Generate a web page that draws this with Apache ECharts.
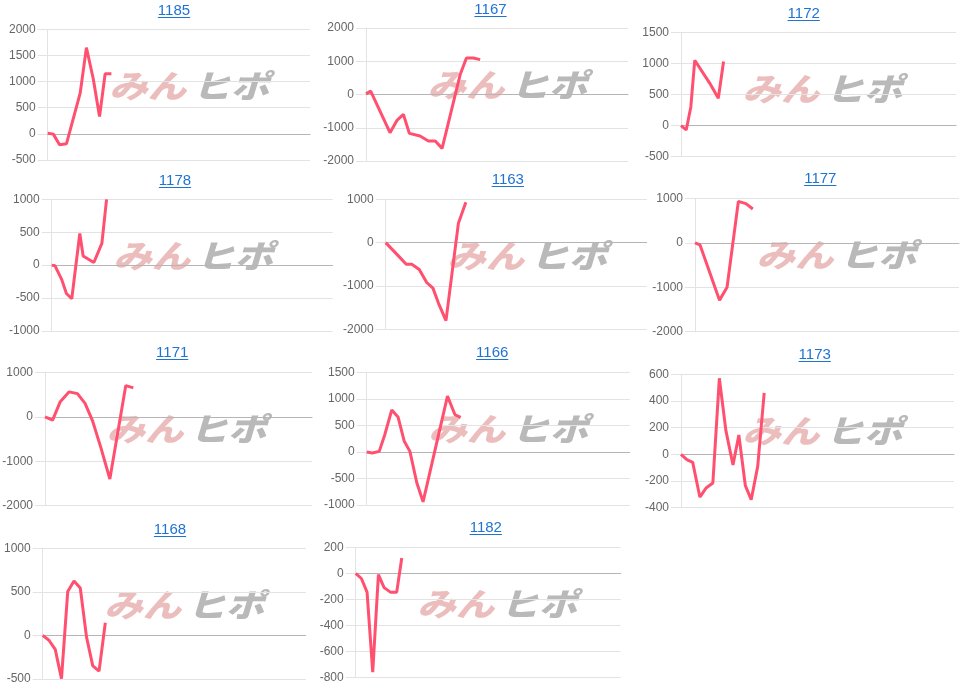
<!DOCTYPE html>
<html><head><meta charset="utf-8">
<script src="https://cdn.jsdelivr.net/npm/echarts@6/dist/echarts.min.js"></script>
<style>html,body{margin:0;padding:0;background:#fff}#c{width:967px;height:689px}</style>
</head><body><div id="c"></div>
<script>
// ---- data ----
const titles = ['1185','1167','1172','1178','1163','1177','1171','1166','1173','1168','1182'];

const x1185 = [0,0.9,1.9,3.0,5.2,6.2,7.3,8.3,9.2,10.2];
const y1185 = [10,-5,-210,-190,780,1650,1050,330,1150,1150];

const x1167 = [0,0.75,2.0,3.85,5.0,6.0,6.95,8.66,10.0,11.1,12.2,15.1,16.1,17.2,18.3];
const y1167 = [20,100,-400,-1150,-770,-600,-1170,-1250,-1400,-1400,-1620,600,1100,1100,1050];

const x1172 = [0,0.8,1.5,2.1,4.4,5.7,6.5];
const y1172 = [0,-70,300,1050,680,440,1030];

const x1178 = [0,0.5,1.5,2.2,3.0,4.2,4.7,6.3,7.5,8.2];
const y1178 = [0,-10,-220,-430,-510,480,140,40,330,1000];

const x1163 = [0,1.0,2.0,3.3,4.2,5.4,6.6,7.6,8.5,9.7,11.7,12.9];
const y1163 = [0,-150,-300,-500,-500,-620,-920,-1050,-1400,-1800,450,930];

const x1177 = [0,0.8,3.9,5.1,6.9,8.1,9.2];
const y1177 = [0,-50,-1290,-1000,930,880,760];

const x1171 = [0,1.2,2.4,3.8,5.1,6.3,7.5,8.8,10.2,12.7,13.9];
const y1171 = [0,-75,340,560,520,300,-100,-700,-1400,700,650];

const x1166 = [0,0.9,2.0,2.9,4.0,5.0,6.0,6.9,8.0,9.0,12.9,14.1,15.0];
const y1166 = [0,-20,10,330,790,660,200,10,-580,-940,1050,700,650];

const x1173 = [0,0.9,1.8,2.9,3.9,4.9,5.9,6.9,8.0,8.9,9.9,10.8,11.8,12.8];
const y1173 = [0,-40,-60,-320,-250,-215,570,180,-80,145,-235,-340,-90,460];

const x1168 = [0,1,2,3,4,5,6,7,8,9,10];
const y1168 = [0,-55,-160,-495,505,625,545,-20,-350,-410,145];

const x1182 = [0,0.9,1.8,2.7,3.6,4.5,5.5,6.5,7.3];
const y1182 = [0,-40,-145,-760,-10,-110,-145,-145,118];

const yMin  = [-500,-2000,-500,-1000,-2000,-2000,-2000,-1000,-400,-500,-800];
const yMax  = [2000,2000,1500,1000,1000,1000,1000,1500,600,1000,200];
const yStep = [500,1000,500,500,1000,1000,1000,500,200,500,200];
const xMax = 42;

const xsAll = [x1185,x1167,x1172,x1178,x1163,x1177,x1171,x1166,x1173,x1168,x1182];
const ysAll = [y1185,y1167,y1172,y1178,y1163,y1177,y1171,y1166,y1173,y1168,y1182];

// ---- layout (px) ----
const gridBox = [
  [47.7, 29.3, 262.3, 130.7],
  [366, 28, 262, 133],
  [681, 32.3, 275, 124.4],
  [51.7, 199.3, 281, 131.7],
  [385.7, 199.3, 261, 130],
  [695, 198.3, 264, 133.4],
  [45, 372.3, 267, 133.4],
  [366.7, 372.3, 263, 132.7],
  [681, 374.3, 273, 133.4],
  [42.7, 548.3, 263, 130.7],
  [355.7, 547.3, 265, 130]
];
const titlePos = [
  [174, 10.7],[490.5, 9.5],[803.7, 13.5],
  [175, 180.5],[507.8, 179.5],[820.3, 179],
  [172.2, 353],[492.2, 353],[814.7, 354.5],
  [170, 529.5],[485.8, 528]
];

const chart = echarts.init(document.getElementById('c'), null, {renderer:'canvas'});
const grids = [], xAxes = [], yAxes = [], series = [], graphics = [];
const meas = document.createElement('canvas').getContext('2d');
meas.font = '15px "Liberation Sans"';
const blue = '#1f73d3';

for (let i = 0; i < titles.length; i++) {
  const g = gridBox[i];
  grids.push({left:g[0], top:g[1], width:g[2], height:g[3], containLabel:false, outerBoundsMode:'none'});
  xAxes.push({
    type:'value', gridIndex:i, min:0, max:xMax,
    axisLabel:{show:false}, axisTick:{show:false}, splitLine:{show:false},
    axisLine:{show:true, onZero:true, lineStyle:{color:'#b5b5b5', width:1}}
  });
  yAxes.push({
    type:'value', gridIndex:i, min:yMin[i], max:yMax[i], interval:yStep[i],
    axisLine:{show:true, onZero:false, lineStyle:{color:'#e3e3e3'}},
    axisTick:{show:true, length:10, lineStyle:{color:'#e3e3e3'}},
    splitLine:{show:true, lineStyle:{color:'#e3e3e3', width:1}},
    axisLabel:{margin:12, color:'#666', fontSize:12, fontFamily:'"Liberation Sans", Arial, sans-serif',
      formatter: v => String(v)}
  });
  series.push({
    type:'line', xAxisIndex:i, yAxisIndex:i, showSymbol:false, symbol:'none',
    data: xsAll[i].map((x, j) => [x, ysAll[i][j]]),
    lineStyle:{color:'#ff5070', width:3}, itemStyle:{color:'#ff5070'},
    silent:true, animation:false, z:3, clip:false
  });
  // title + underline
  const tp = titlePos[i];
  const w = meas.measureText(titles[i]).width;
  graphics.push({type:'text', x:tp[0], y:tp[1], silent:true, z:10,
    style:{text:titles[i], font:'15px "Liberation Sans", Arial, sans-serif', fill:blue, align:'center', verticalAlign:'middle'}});
  const uy = Math.round(tp[1] + 6) + 0.5;
  graphics.push({type:'line', silent:true, z:10,
    shape:{x1:tp[0]-w/2, y1:uy, x2:tp[0]+w/2, y2:uy}, style:{stroke:blue, lineWidth:1}});
  // watermark
  const cx = g[0] + 142, cy = g[1] + 57;
  graphics.push({type:'text', x:cx-42, y:cy, scaleX:1.2, silent:true, z:-1,
    style:{text:'みん', font:'italic 900 32px "Noto Sans CJK JP"', fill:'#ecbdbd', align:'center', verticalAlign:'middle'}});
  graphics.push({type:'text', x:cx+41, y:cy, scaleX:1.2, silent:true, z:-1,
    style:{text:'ヒポ', font:'italic 900 32px "Noto Sans CJK JP"', fill:'#b9b9b9', align:'center', verticalAlign:'middle'}});
}

chart.setOption({
  animation:false,
  grid:grids, xAxis:xAxes, yAxis:yAxes, series:series,
  graphic:{elements:graphics}
});
</script></body></html>
